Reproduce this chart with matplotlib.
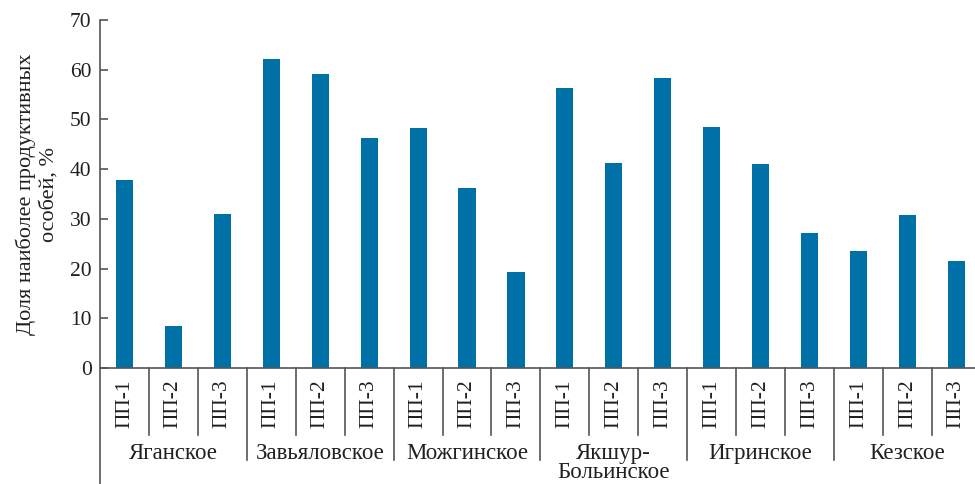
import numpy as np
import matplotlib.pyplot as plt

plt.rcParams['font.family'] = ['Liberation Serif', 'DejaVu Serif']

groups = ["Яганское", "Завьяловское", "Можгинское", "Якшур-\nБольинское",
          "Игринское", "Кезское"]
plots = ["ПП-1", "ПП-2", "ПП-3"]
values = [37.9, 8.4, 30.9,
          62.1, 59.1, 46.2,
          48.2, 36.3, 19.4,
          56.4, 41.2, 58.3,
          48.4, 41.0, 27.1,
          23.5, 30.7, 21.5]

tick_labels = plots * len(groups)
x = np.arange(len(values))

fig = plt.figure(figsize=(9.75, 4.84), dpi=100)
ax = fig.add_axes([100/975, 116/484, 1 - 100/975, 348/484])

ax.bar(x, values, width=0.35, color="#0071a7")
ax.set_xlim(-0.5, 17.38)
ax.set_ylim(0, 70)

ink = "#231f20"
ax.spines[['top', 'right', 'left']].set_visible(False)
ax.spines['bottom'].set_color("#555555")
ax.spines['bottom'].set_linewidth(1.2)

# long left axis line going down past the labels
ax.plot([0, 0], [1.0, -116/348], transform=ax.transAxes, color="#555555",
        lw=1.2, clip_on=False)

ax.set_yticks(range(0, 71, 10))
ax.tick_params(axis='y', direction='in', length=6, width=1.2, color="#555555",
               labelsize=15.5, labelcolor=ink, pad=6)

ax.set_xticks(x)
ax.set_xticklabels(tick_labels, rotation=90, fontsize=15.5, color=ink)
ax.tick_params(axis='x', length=0, pad=8)

trans = ax.get_xaxis_transform()
for i in range(len(values)):
    pos = i + 0.5
    if pos > 17.38:
        continue
    bottom = -0.264 if (i + 1) % 3 == 0 else -0.193
    ax.plot([pos, pos], [0, bottom], transform=trans, color="#555555",
            lw=1.2, clip_on=False)

for g, name in enumerate(groups):
    ax.text(g*3 + 1, -0.215, name, transform=trans, ha='center', va='top',
            fontsize=16.5, color=ink, linespacing=0.9)

ax.set_ylabel("Доля наиболее продуктивных\nособей, %", fontsize=16,
              color=ink, labelpad=8, linespacing=1.25)

fig.savefig("out.png", dpi=100)
